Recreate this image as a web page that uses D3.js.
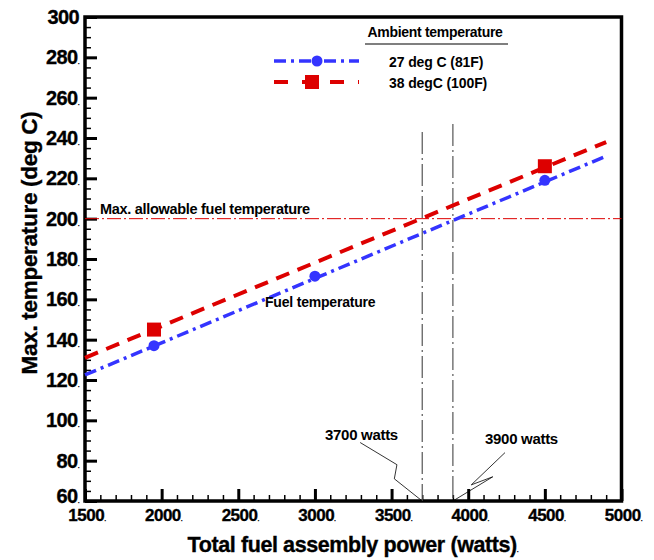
<!DOCTYPE html>
<html>
<head>
<meta charset="utf-8">
<script src="https://cdn.jsdelivr.net/npm/d3@7/dist/d3.min.js"></script>
<style>
  body { margin: 0; background: #fff; }
  svg { font-family: "Liberation Sans", Arial, sans-serif; }
  .heavy { stroke: #000; stroke-width: 0.35px; }
</style>
</head>
<body>
<svg id="chart" width="654" height="560"></svg>
<script>
// measured points
const power27 = [1950, 3000, 4500];
const temp27 = [137, 171.5, 219];
const power38 = [1950, 4500];
const temp38 = [145, 226];

// fitted trend lines (end points)
const fitPower = [1500, 4900];
const fit27 = [122.5, 231];
const fit38 = [131, 238];

const maxAllowable = 200;
const limitPowers = [3700, 3900];
const limitTops = [243, 247];

const xTicks = [1500, 2000, 2500, 3000, 3500, 4000, 4500, 5000];
const yTicks = [60, 80, 100, 120, 140, 160, 180, 200, 220, 240, 260, 280, 300];

// leader lines of the two call-outs, in data units
const callout3700 = [[3295, 89], [3535, 78], [3518, 71], [3700, 60]];
const callout3900 = [[4240, 84], [4020, 68], [4160, 72], [3900, 60]];

const svg = d3.select("#chart");
const plotLeft = 85, plotRight = 621.5, plotTop = 17, plotBottom = 501;

const x = d3.scaleLinear().domain([1500, 5000]).range([plotLeft, plotRight]);
const y = d3.scaleLinear().domain([60, 300]).range([plotBottom, plotTop]);

const blue = "#3434ff";
const red = "#dd0000";

// minor ticks
const g = svg.append("g");
g.append("g")
  .attr("transform", `translate(0, ${plotBottom})`)
  .call(d3.axisTop(x).tickValues(d3.range(1500, 5001, 100)).tickSize(6).tickFormat(""))
  .call(a => a.select(".domain").remove())
  .selectAll("line").attr("stroke", "#000").attr("stroke-width", 1.5);
g.append("g")
  .attr("transform", `translate(${plotLeft}, 0)`)
  .call(d3.axisRight(y).tickValues(d3.range(60, 301, 5)).tickSize(6).tickFormat(""))
  .call(a => a.select(".domain").remove())
  .selectAll("line").attr("stroke", "#000").attr("stroke-width", 1.5);

// major ticks + labels
const xAxis = g.append("g")
  .attr("transform", `translate(0, ${plotBottom})`)
  .call(d3.axisTop(x).tickValues(xTicks).tickSize(12).tickFormat(""));
xAxis.select(".domain").remove();
xAxis.selectAll("line").attr("stroke", "#000").attr("stroke-width", 3);

const yAxis = g.append("g")
  .attr("transform", `translate(${plotLeft}, 0)`)
  .call(d3.axisRight(y).tickValues(yTicks).tickSize(12).tickFormat(""));
yAxis.select(".domain").remove();
yAxis.selectAll("line").attr("stroke", "#000").attr("stroke-width", 3);

const xl = svg.append("g").selectAll("text").data(xTicks).enter().append("text")
  .attr("class", "heavy")
  .attr("x", d => x(d) + 2)
  .attr("y", plotBottom + 20)
  .attr("text-anchor", "middle")
  .attr("font-size", "17px")
  .attr("font-weight", "bold")
  .attr("letter-spacing", "-0.5px");
xl.append("tspan").text(d => d);
xl.append("tspan").attr("font-size", "7px").attr("font-weight", "normal").text(".");

const yl = svg.append("g").selectAll("text").data(yTicks).enter().append("text")
  .attr("class", "heavy")
  .attr("x", plotLeft - 6)
  .attr("y", d => y(d) + (d === 60 ? 2 : 7))
  .attr("text-anchor", "end")
  .attr("font-size", "20px")
  .attr("font-weight", "bold")
  .attr("letter-spacing", "-0.6px");
yl.append("tspan").text(d => d);
yl.append("tspan").attr("font-size", "7px").attr("font-weight", "normal").text(d => d === 300 ? "" : ".");

// frame
svg.append("rect")
  .attr("x", plotLeft).attr("y", plotTop)
  .attr("width", plotRight - plotLeft).attr("height", plotBottom - plotTop)
  .attr("fill", "none").attr("stroke", "#000").attr("stroke-width", 3.5);

// max allowable line
svg.append("line")
  .attr("x1", x(1500)).attr("x2", x(5000))
  .attr("y1", y(maxAllowable)).attr("y2", y(maxAllowable))
  .attr("stroke", red).attr("stroke-width", 1)
  .attr("stroke-dasharray", "14,3,2,3");
svg.append("text")
  .attr("x", 100).attr("y", y(maxAllowable) - 5)
  .attr("font-size", "14.5px").attr("font-weight", "bold")
  .attr("letter-spacing", "-0.3px")
  .text("Max. allowable fuel temperature");

// vertical limit lines
svg.append("g").selectAll("line").data(limitPowers).enter().append("line")
  .attr("x1", d => x(d)).attr("x2", d => x(d))
  .attr("y1", (d, i) => y(limitTops[i])).attr("y2", plotBottom)
  .attr("stroke", "#555").attr("stroke-width", 1.2)
  .attr("stroke-dasharray", "22,4,2,4");

// trend lines
const line = d3.line().x(d => x(d[0])).y(d => y(d[1]));
svg.append("path")
  .datum(fitPower.map((p, i) => [p, fit38[i]]))
  .attr("d", line).attr("fill", "none")
  .attr("stroke", red).attr("stroke-width", 4)
  .attr("stroke-dasharray", "14,9");
svg.append("path")
  .datum(fitPower.map((p, i) => [p, fit27[i]]))
  .attr("d", line).attr("fill", "none")
  .attr("stroke", blue).attr("stroke-width", 3.5)
  .attr("stroke-dasharray", "12,5,3,5");

// markers
svg.append("g").selectAll("rect").data(power38).enter().append("rect")
  .attr("x", d => x(d) - 7)
  .attr("y", (d, i) => y(temp38[i]) - 7)
  .attr("width", 14).attr("height", 14)
  .attr("fill", red);
svg.append("g").selectAll("circle").data(power27).enter().append("circle")
  .attr("cx", d => x(d))
  .attr("cy", (d, i) => y(temp27[i]))
  .attr("r", 5.5)
  .attr("fill", blue);

svg.append("text")
  .attr("x", 265).attr("y", 307)
  .attr("font-size", "14px").attr("font-weight", "bold")
  .attr("letter-spacing", "-0.2px")
  .text("Fuel temperature");

// call-outs
[callout3700, callout3900].forEach(c => {
  svg.append("path").attr("d", line(c))
    .attr("fill", "none").attr("stroke", "#000").attr("stroke-width", 0.8);
});
svg.append("text")
  .attr("x", 325).attr("y", 440)
  .attr("font-size", "15px").attr("font-weight", "bold")
  .attr("letter-spacing", "-0.3px")
  .text("3700 watts");
svg.append("text")
  .attr("x", 485).attr("y", 444)
  .attr("font-size", "15px").attr("font-weight", "bold")
  .attr("letter-spacing", "-0.3px")
  .text("3900 watts");

// legend
const legend = svg.append("g");
legend.append("text")
  .attr("x", 435).attr("y", 37)
  .attr("text-anchor", "middle")
  .attr("font-size", "14px").attr("font-weight", "bold")
  .attr("letter-spacing", "-0.3px")
  .text("Ambient temperature");
legend.append("line")
  .attr("x1", 365).attr("x2", 508).attr("y1", 44).attr("y2", 44)
  .attr("stroke", "#000").attr("stroke-width", 1.2);
legend.append("line")
  .attr("x1", 274).attr("x2", 359).attr("y1", 61).attr("y2", 61)
  .attr("stroke", blue).attr("stroke-width", 3.5)
  .attr("stroke-dasharray", "12,5,3,5");
legend.append("circle").attr("cx", 317).attr("cy", 61).attr("r", 5.5).attr("fill", blue);
legend.append("line")
  .attr("x1", 274).attr("x2", 359).attr("y1", 82).attr("y2", 82)
  .attr("stroke", red).attr("stroke-width", 4)
  .attr("stroke-dasharray", "14,14");
legend.append("rect").attr("x", 305).attr("y", 75).attr("width", 14).attr("height", 14).attr("fill", red);
legend.append("text")
  .attr("x", 389).attr("y", 67)
  .attr("font-size", "14px").attr("font-weight", "bold")
  .attr("letter-spacing", "-0.1px")
  .text("27 deg C (81F)");
legend.append("text")
  .attr("x", 389).attr("y", 88)
  .attr("font-size", "14px").attr("font-weight", "bold")
  .attr("letter-spacing", "-0.1px")
  .text("38 degC (100F)");

// axis titles
const xt = svg.append("text")
  .attr("class", "heavy")
  .attr("x", 353).attr("y", 552)
  .attr("text-anchor", "middle")
  .attr("font-size", "21.5px").attr("font-weight", "bold")
  .attr("letter-spacing", "-0.4px");
xt.append("tspan").text("Total fuel assembly power (watts)");
xt.append("tspan").attr("font-size", "7px").attr("font-weight", "normal").text(".");

svg.append("text")
  .attr("class", "heavy")
  .attr("transform", "translate(37, 243) rotate(-90)")
  .attr("text-anchor", "middle")
  .attr("font-size", "22.5px").attr("font-weight", "bold")
  .attr("letter-spacing", "-0.3px")
  .text("Max. temperature (deg C)");
</script>
</body>
</html>
